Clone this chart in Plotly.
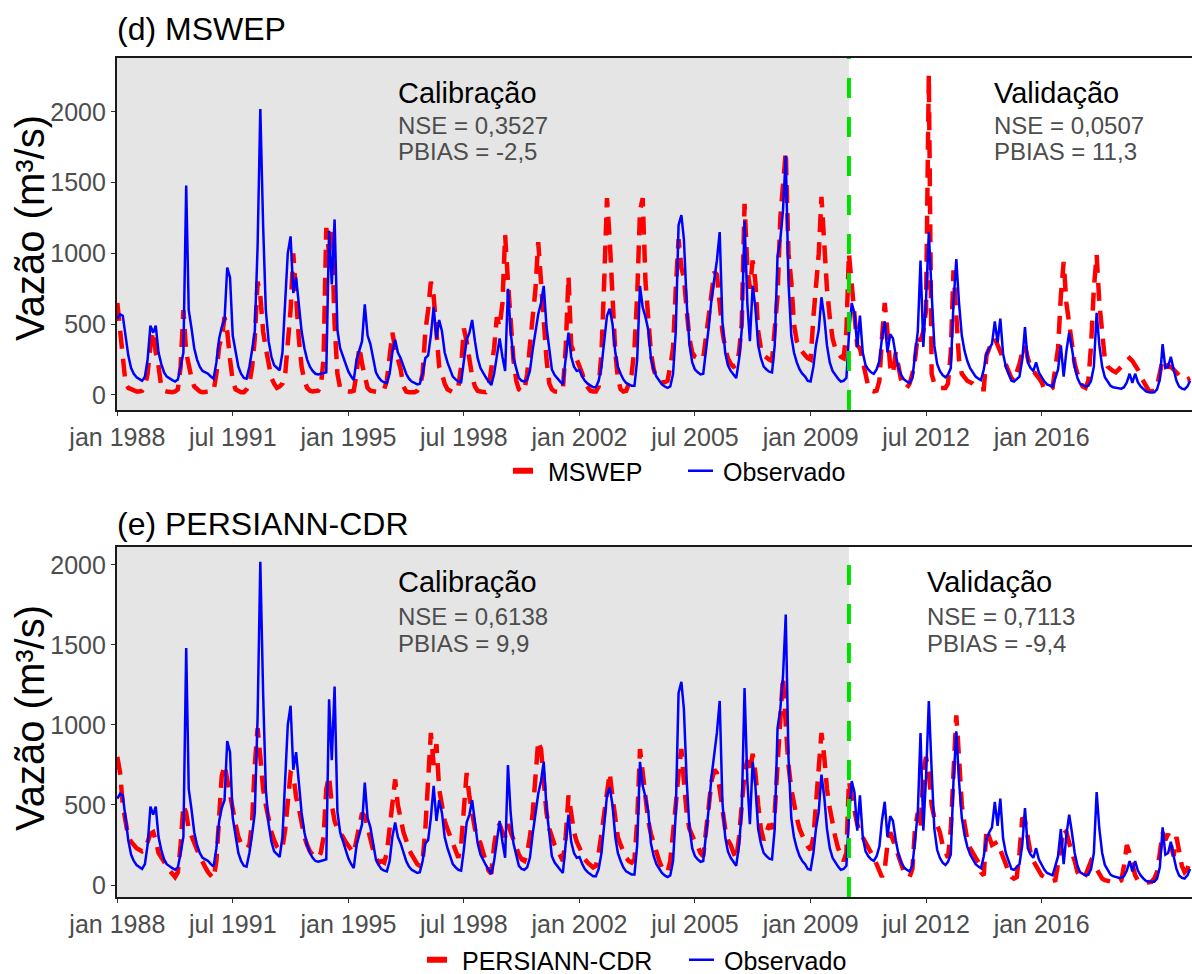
import plotly.graph_objects as go
import pandas as pd

# ---------------- data (monthly, jan 1988 - jul 2020) ----------------
observado = [
    540, 570, 560, 420, 280, 190, 150, 125, 110, 100, 130, 250,      # 1988
    490, 440, 490, 300, 220, 160, 130, 115, 105, 95, 110, 200,       # 1989
    300, 1480, 600, 470, 330, 250, 200, 170, 160, 150, 130, 115,     # 1990
    230, 400, 480, 530, 900, 830, 420, 300, 200, 150, 120, 115,      # 1991
    200, 320, 450, 1050, 2020, 1200, 600, 380, 270, 210, 190, 175,   # 1992
    300, 700, 1000, 1120, 720, 830, 650, 450, 330, 250, 200, 170,    # 1993
    150, 145, 150, 155, 160, 1160, 780, 1240, 460, 330, 270, 210,    # 1994
    165, 130, 105, 250, 320, 380, 640, 420, 360, 250, 160, 125,      # 1995
    100, 90, 85, 150, 300, 390, 300, 260, 200, 150, 115, 95,         # 1996
    85, 75, 80, 150, 260, 280, 420, 620, 400, 530, 450, 300,         # 1997
    230, 170, 130, 110, 95, 90, 220, 390, 440, 530, 380, 260,        # 1998
    190, 150, 125, 95, 70, 150, 260, 400, 270, 170, 750, 450,        # 1999
    260, 180, 120, 100, 95, 110, 170, 320, 460, 570, 650, 770,       # 2000
    480, 300, 180, 140, 115, 95, 75, 260, 440, 270, 200, 170,        # 2001
    175, 130, 100, 80, 65, 55, 55, 100, 200, 380, 560, 610,          # 2002
    500, 300, 200, 150, 110, 85, 75, 65, 65, 250, 770, 620,          # 2003
    550, 460, 260, 180, 130, 100, 75, 60, 50, 60, 150, 450,          # 2004
    1200, 1270, 1100, 650, 360, 230, 180, 160, 145, 150, 300, 480,   # 2005
    680, 830, 950, 1150, 520, 300, 210, 170, 145, 120, 250, 460,     # 2006
    1230, 650, 380, 770, 620, 350, 260, 200, 180, 165, 160, 350,     # 2007
    980, 1100, 1300, 1690, 800, 420, 300, 230, 180, 150, 130, 100,   # 2008
    95, 200, 350, 460, 690, 550, 350, 230, 170, 140, 115, 95,        # 2009
    100, 120, 420, 650, 580, 340, 560, 300, 210, 180, 160, 150,      # 2010
    180, 240, 400, 520, 300, 430, 400, 280, 190, 140, 110, 95,       # 2011
    85, 120, 290, 450, 950, 340, 670, 1150, 720, 350, 220, 170,      # 2012
    140, 125, 145, 190, 650, 960, 650, 420, 310, 240, 190, 160,      # 2013
    130, 115, 105, 180, 290, 330, 360, 520, 370, 540, 290, 200,      # 2014
    150, 100, 95, 110, 130, 250, 480, 230, 190, 170, 230, 160,       # 2015
    125, 95, 75, 65, 60, 120, 180, 350, 130, 310, 440, 330,          # 2016
    200, 120, 80, 70, 60, 65, 100, 200, 580, 350, 200, 125,          # 2017
    90, 65, 55, 50, 45, 45, 55, 90, 150, 85, 150, 90,                # 2018
    60, 40, 25, 20, 20, 20, 40, 110, 360, 190, 200, 270,             # 2019
    180, 100, 60, 45, 40, 60, 100,                                   # 2020
]

mswep = [
    650, 450, 200, 80, 50, 40, 30, 25, 25, 30, 60, 150,              # 1988
    350, 450, 300, 200, 60, 30, 25, 20, 20, 25, 40, 200,             # 1989
    600, 300, 200, 120, 60, 40, 25, 20, 20, 20, 25, 30,              # 1990
    150, 350, 400, 550, 450, 250, 100, 40, 25, 20, 20, 40,           # 1991
    80, 200, 400, 800, 700, 450, 330, 200, 120, 80, 50, 60,          # 1992
    80, 150, 350, 600, 1000, 650, 400, 200, 100, 50, 30, 25,         # 1993
    25, 30, 60, 250, 1180, 1000, 1150, 500, 150, 50, 30, 25,         # 1994
    25, 25, 30, 150, 340, 220, 120, 50, 30, 25, 20, 20,              # 1995
    20, 40, 100, 250, 440, 330, 250, 180, 60, 25, 20, 20,            # 1996
    20, 30, 60, 150, 450, 600, 800, 700, 450, 200, 150, 80,          # 1997
    40, 25, 20, 30, 60, 200, 470, 380, 250, 130, 60, 30,             # 1998
    25, 20, 20, 50, 200, 330, 550, 480, 650, 1130, 800, 500,         # 1999
    250, 100, 40, 25, 30, 150, 380, 550, 750, 1080, 800, 500,        # 2000
    250, 80, 40, 25, 20, 20, 40, 330, 840, 350, 300, 250,            # 2001
    200, 150, 80, 50, 30, 25, 25, 60, 300, 800, 1390, 1100,          # 2002
    650, 300, 120, 40, 25, 30, 80, 150, 330, 700, 1300, 1390,        # 2003
    800, 500, 300, 180, 120, 100, 90, 90, 100, 200, 330, 750,        # 2004
    1100, 900, 830, 600, 400, 300, 270, 260, 250, 260, 400, 550,     # 2005
    700, 870, 850, 600, 450, 330, 260, 220, 200, 210, 300, 500,      # 2006
    1350, 900, 750, 950, 800, 450, 330, 280, 260, 250, 240, 450,     # 2007
    700, 1250, 1500, 1720, 1000, 800, 500, 380, 330, 300, 280, 260,  # 2008
    250, 550, 800, 1000, 1400, 1000, 750, 550, 400, 330, 300, 270,   # 2009
    260, 450, 1000, 800, 550, 350, 330, 250, 150, 60, 30, 25,        # 2010
    30, 100, 400, 650, 450, 200, 150, 300, 200, 100, 60, 50,         # 2011
    80, 150, 250, 420, 380, 450, 600, 2260, 150, 80, 60, 50,         # 2012
    50, 50, 80, 300, 880, 600, 250, 150, 120, 100, 90, 80,           # 2013
    60, 50, 40, 40, 280, 330, 380, 400, 350, 300, 260, 200,          # 2014
    150, 120, 100, 150, 220, 300, 350, 260, 200, 170, 150, 120,      # 2015
    90, 40, 35, 35, 50, 200, 330, 700, 940, 650, 500, 380,           # 2016
    220, 150, 90, 60, 50, 100, 350, 750, 990, 650, 400, 250,         # 2017
    200, 180, 170, 160, 180, 200, 230, 250, 260, 240, 210, 180,      # 2018
    130, 100, 60, 30, 25, 30, 60, 150, 250, 220, 200, 200,           # 2019
    180, 150, 130, 120, 110, 110, 120,                               # 2020
]

persiann = [
    800, 700, 500, 380, 300, 270, 250, 230, 220, 210, 220, 280,      # 1988
    320, 330, 280, 200, 170, 140, 110, 90, 70, 50, 80, 250,          # 1989
    500, 450, 350, 300, 250, 220, 180, 140, 110, 80, 60, 40,         # 1990
    150, 450, 680, 750, 650, 550, 450, 380, 300, 260, 240, 230,      # 1991
    250, 400, 750, 980, 800, 600, 500, 400, 330, 280, 240, 220,      # 1992
    230, 350, 550, 700, 690, 550, 480, 380, 300, 250, 210, 190,      # 1993
    180, 170, 200, 300, 600, 680, 500, 400, 350, 330, 300, 270,      # 1994
    250, 220, 200, 280, 380, 450, 430, 350, 280, 220, 170, 140,      # 1995
    150, 140, 200, 350, 460, 660, 500, 400, 330, 280, 220, 190,      # 1996
    160, 130, 120, 150, 350, 700, 950, 750, 880, 600, 500, 400,      # 1997
    350, 300, 250, 200, 170, 250, 500, 700, 550, 450, 350, 300,      # 1998
    260, 200, 140, 90, 70, 250, 350, 380, 330, 300, 380, 330,        # 1999
    280, 230, 190, 160, 150, 200, 300, 450, 650, 900, 850, 650,      # 2000
    450, 350, 300, 250, 220, 180, 150, 300, 560, 450, 330, 270,      # 2001
    230, 190, 160, 140, 120, 110, 120, 200, 320, 450, 600, 700,      # 2002
    550, 400, 300, 250, 200, 170, 150, 140, 160, 400, 850, 700,      # 2003
    500, 400, 320, 260, 200, 150, 110, 90, 80, 150, 300, 500,        # 2004
    700, 850, 650, 450, 350, 300, 270, 240, 200, 180, 350, 450,      # 2005
    650, 720, 700, 600, 450, 350, 280, 250, 200, 160, 300, 500,      # 2006
    700, 780, 700, 820, 700, 500, 350, 280, 330, 380, 350, 450,      # 2007
    750, 1000, 1300, 1000, 750, 600, 500, 420, 350, 300, 270, 240,   # 2008
    220, 300, 480, 700, 950, 800, 600, 480, 380, 300, 230, 180,      # 2009
    150, 200, 650, 550, 450, 380, 330, 300, 260, 230, 200, 170,      # 2010
    130, 80, 50, 100, 250, 330, 280, 220, 160, 120, 80, 60,          # 2011
    50, 100, 350, 450, 350, 700, 800, 700, 500, 420, 380, 330,       # 2012
    250, 200, 170, 350, 750, 1060, 800, 500, 380, 280, 230, 200,     # 2013
    170, 140, 80, 60, 350, 300, 250, 260, 270, 220, 180, 130,        # 2014
    80, 50, 40, 50, 200, 420, 400, 300, 200, 150, 120, 90,           # 2015
    60, 50, 40, 30, 25, 30, 150, 250, 350, 330, 250, 200,            # 2016
    150, 80, 50, 40, 60, 100, 150, 130, 100, 60, 40, 30,             # 2017
    25, 20, 15, 15, 20, 30, 120, 250, 200, 120, 60, 30,              # 2018
    20, 15, 15, 15, 20, 40, 80, 200, 330, 280, 320, 250,             # 2019
    180, 300, 200, 120, 80, 100, 150,                                # 2020
]

datas = pd.date_range("1988-01-01", periods=len(observado), freq="MS")

tick_vals = ["1988-01-01", "1991-07-01", "1995-01-01", "1998-07-01", "2002-01-01",
             "2005-07-01", "2009-01-01", "2012-07-01", "2016-01-01"]
tick_text = ["jan 1988", "jul 1991", "jan 1995", "jul 1998", "jan 2002",
             "jul 2005", "jan 2009", "jul 2012", "jan 2016"]
y_ticks = [0, 500, 1000, 1500, 2000]

fim_calibracao = "2010-03-01"
x_range = ["1987-12-25", "2020-07-22"]

FONT = "Liberation Sans, Arial, sans-serif"
W, H = 1192, 974
RED, BLUE, GREEN, GRAYBG = "#FF0000", "#0000FF", "#00E000", "#E5E5E5"


def px(x):
    return x / W


def py(y):
    return 1 - y / H


fig = go.Figure()

panels = [
    dict(sim=mswep, name="MSWEP", xa="x", ya="y", leg=("legend", "legend2")),
    dict(sim=persiann, name="PERSIANN-CDR", xa="x2", ya="y2", leg=("legend3", "legend4")),
]

for p in panels:
    fig.add_trace(go.Scatter(x=datas, y=p["sim"], mode="lines", name=p["name"],
                             line=dict(color=RED, width=4.5, dash="18px,10px"),
                             xaxis=p["xa"], yaxis=p["ya"], showlegend=False))
    fig.add_trace(go.Scatter(x=datas, y=observado, mode="lines", name="Observado",
                             line=dict(color=BLUE, width=2.5),
                             xaxis=p["xa"], yaxis=p["ya"], showlegend=False))
    # legend-only entries
    fig.add_trace(go.Scatter(x=[None], y=[None], mode="lines", name=p["name"],
                             line=dict(color=RED, width=6, dash="20px,60px"),
                             xaxis=p["xa"], yaxis=p["ya"], legend=p["leg"][0]))
    fig.add_trace(go.Scatter(x=[None], y=[None], mode="lines", name="Observado",
                             line=dict(color=BLUE, width=2.5, dash="25px,60px"),
                             xaxis=p["xa"], yaxis=p["ya"], legend=p["leg"][1]))

xdom = [116.7 / W, 1.0]
axis_common_x = dict(range=x_range, type="date", tickvals=tick_vals, ticktext=tick_text,
                     showgrid=False, zeroline=False, showline=True, mirror=True,
                     linecolor="#1a1a1a", linewidth=1.5, ticks="outside", ticklen=4,
                     tickcolor="#333333", tickwidth=1.2, automargin=False,
                     tickfont=dict(family=FONT, size=25, color="#4D4D4D"), domain=xdom)
axis_common_y = dict(tickvals=y_ticks, showgrid=False, zeroline=False, showline=True,
                     mirror=False, linecolor="#1a1a1a", linewidth=1.5, ticks="outside",
                     ticklen=4, tickcolor="#333333", tickwidth=1.2, automargin=False,
                     tickfont=dict(family=FONT, size=25, color="#4D4D4D"))

fig.update_layout(
    width=W, height=H,
    margin=dict(l=0, r=0, t=0, b=0, autoexpand=False),
    paper_bgcolor="white", plot_bgcolor="white",
    font=dict(family=FONT, color="black"),
    xaxis=dict(axis_common_x, anchor="y"),
    yaxis=dict(axis_common_y, anchor="x", domain=[py(410), py(58)], range=[-106, 2380]),
    xaxis2=dict(axis_common_x, anchor="y2"),
    yaxis2=dict(axis_common_y, anchor="x2", domain=[py(897), py(547)], range=[-75, 2112]),
)

leg_common = dict(orientation="h", bgcolor="rgba(0,0,0,0)", borderwidth=0,
                  font=dict(family=FONT, size=25, color="black"),
                  xanchor="left", yanchor="middle")
fig.update_layout(
    legend=dict(leg_common, x=px(508), y=py(471)),
    legend2=dict(leg_common, x=px(683), y=py(471)),
    legend3=dict(leg_common, x=px(422), y=py(960)),
    legend4=dict(leg_common, x=px(684), y=py(960)),
)

shapes = []
for xa, ya in (("x", "y"), ("x2", "y2")):
    shapes.append(dict(type="rect", xref=xa, yref=ya + " domain", x0=x_range[0],
                       x1=fim_calibracao, y0=0, y1=1, fillcolor=GRAYBG,
                       line=dict(width=0), layer="below"))
    shapes.append(dict(type="line", xref=xa, yref=ya + " domain", x0=fim_calibracao,
                       x1=fim_calibracao, y0=0, y1=1,
                       line=dict(color=GREEN, width=4, dash="20px,19px"), layer="above"))
fig.update_layout(shapes=shapes)

ann = []


def txt(text, x, y, size, color="black", xanchor="left", textangle=0):
    ann.append(dict(text=text, x=px(x), y=py(y), xref="paper", yref="paper",
                    xanchor=xanchor, yanchor="middle", showarrow=False,
                    textangle=textangle,
                    font=dict(family=FONT, size=size, color=color)))


txt("(d) MSWEP", 115, 29, 32)
txt("(e) PERSIANN-CDR", 115, 524, 32)
txt("Vazão (m³/s)", 30, 228, 40, xanchor="center", textangle=-90)
txt("Vazão (m³/s)", 30, 718, 40, xanchor="center", textangle=-90)

txt("Calibração", 396, 93, 29)
txt("NSE = 0,3527", 396, 126, 24, "#4D4D4D")
txt("PBIAS = -2,5", 396, 152, 24, "#4D4D4D")
txt("Validação", 992, 93, 29)
txt("NSE = 0,0507", 992, 126, 24, "#4D4D4D")
txt("PBIAS = 11,3", 992, 152, 24, "#4D4D4D")

txt("Calibração", 396, 582, 29)
txt("NSE = 0,6138", 396, 616, 24, "#4D4D4D")
txt("PBIAS = 9,9", 396, 643, 24, "#4D4D4D")
txt("Validação", 925, 582, 29)
txt("NSE = 0,7113", 925, 616, 24, "#4D4D4D")
txt("PBIAS = -9,4", 925, 643, 24, "#4D4D4D")

fig.update_layout(annotations=ann)

fig.write_html("out.html")
